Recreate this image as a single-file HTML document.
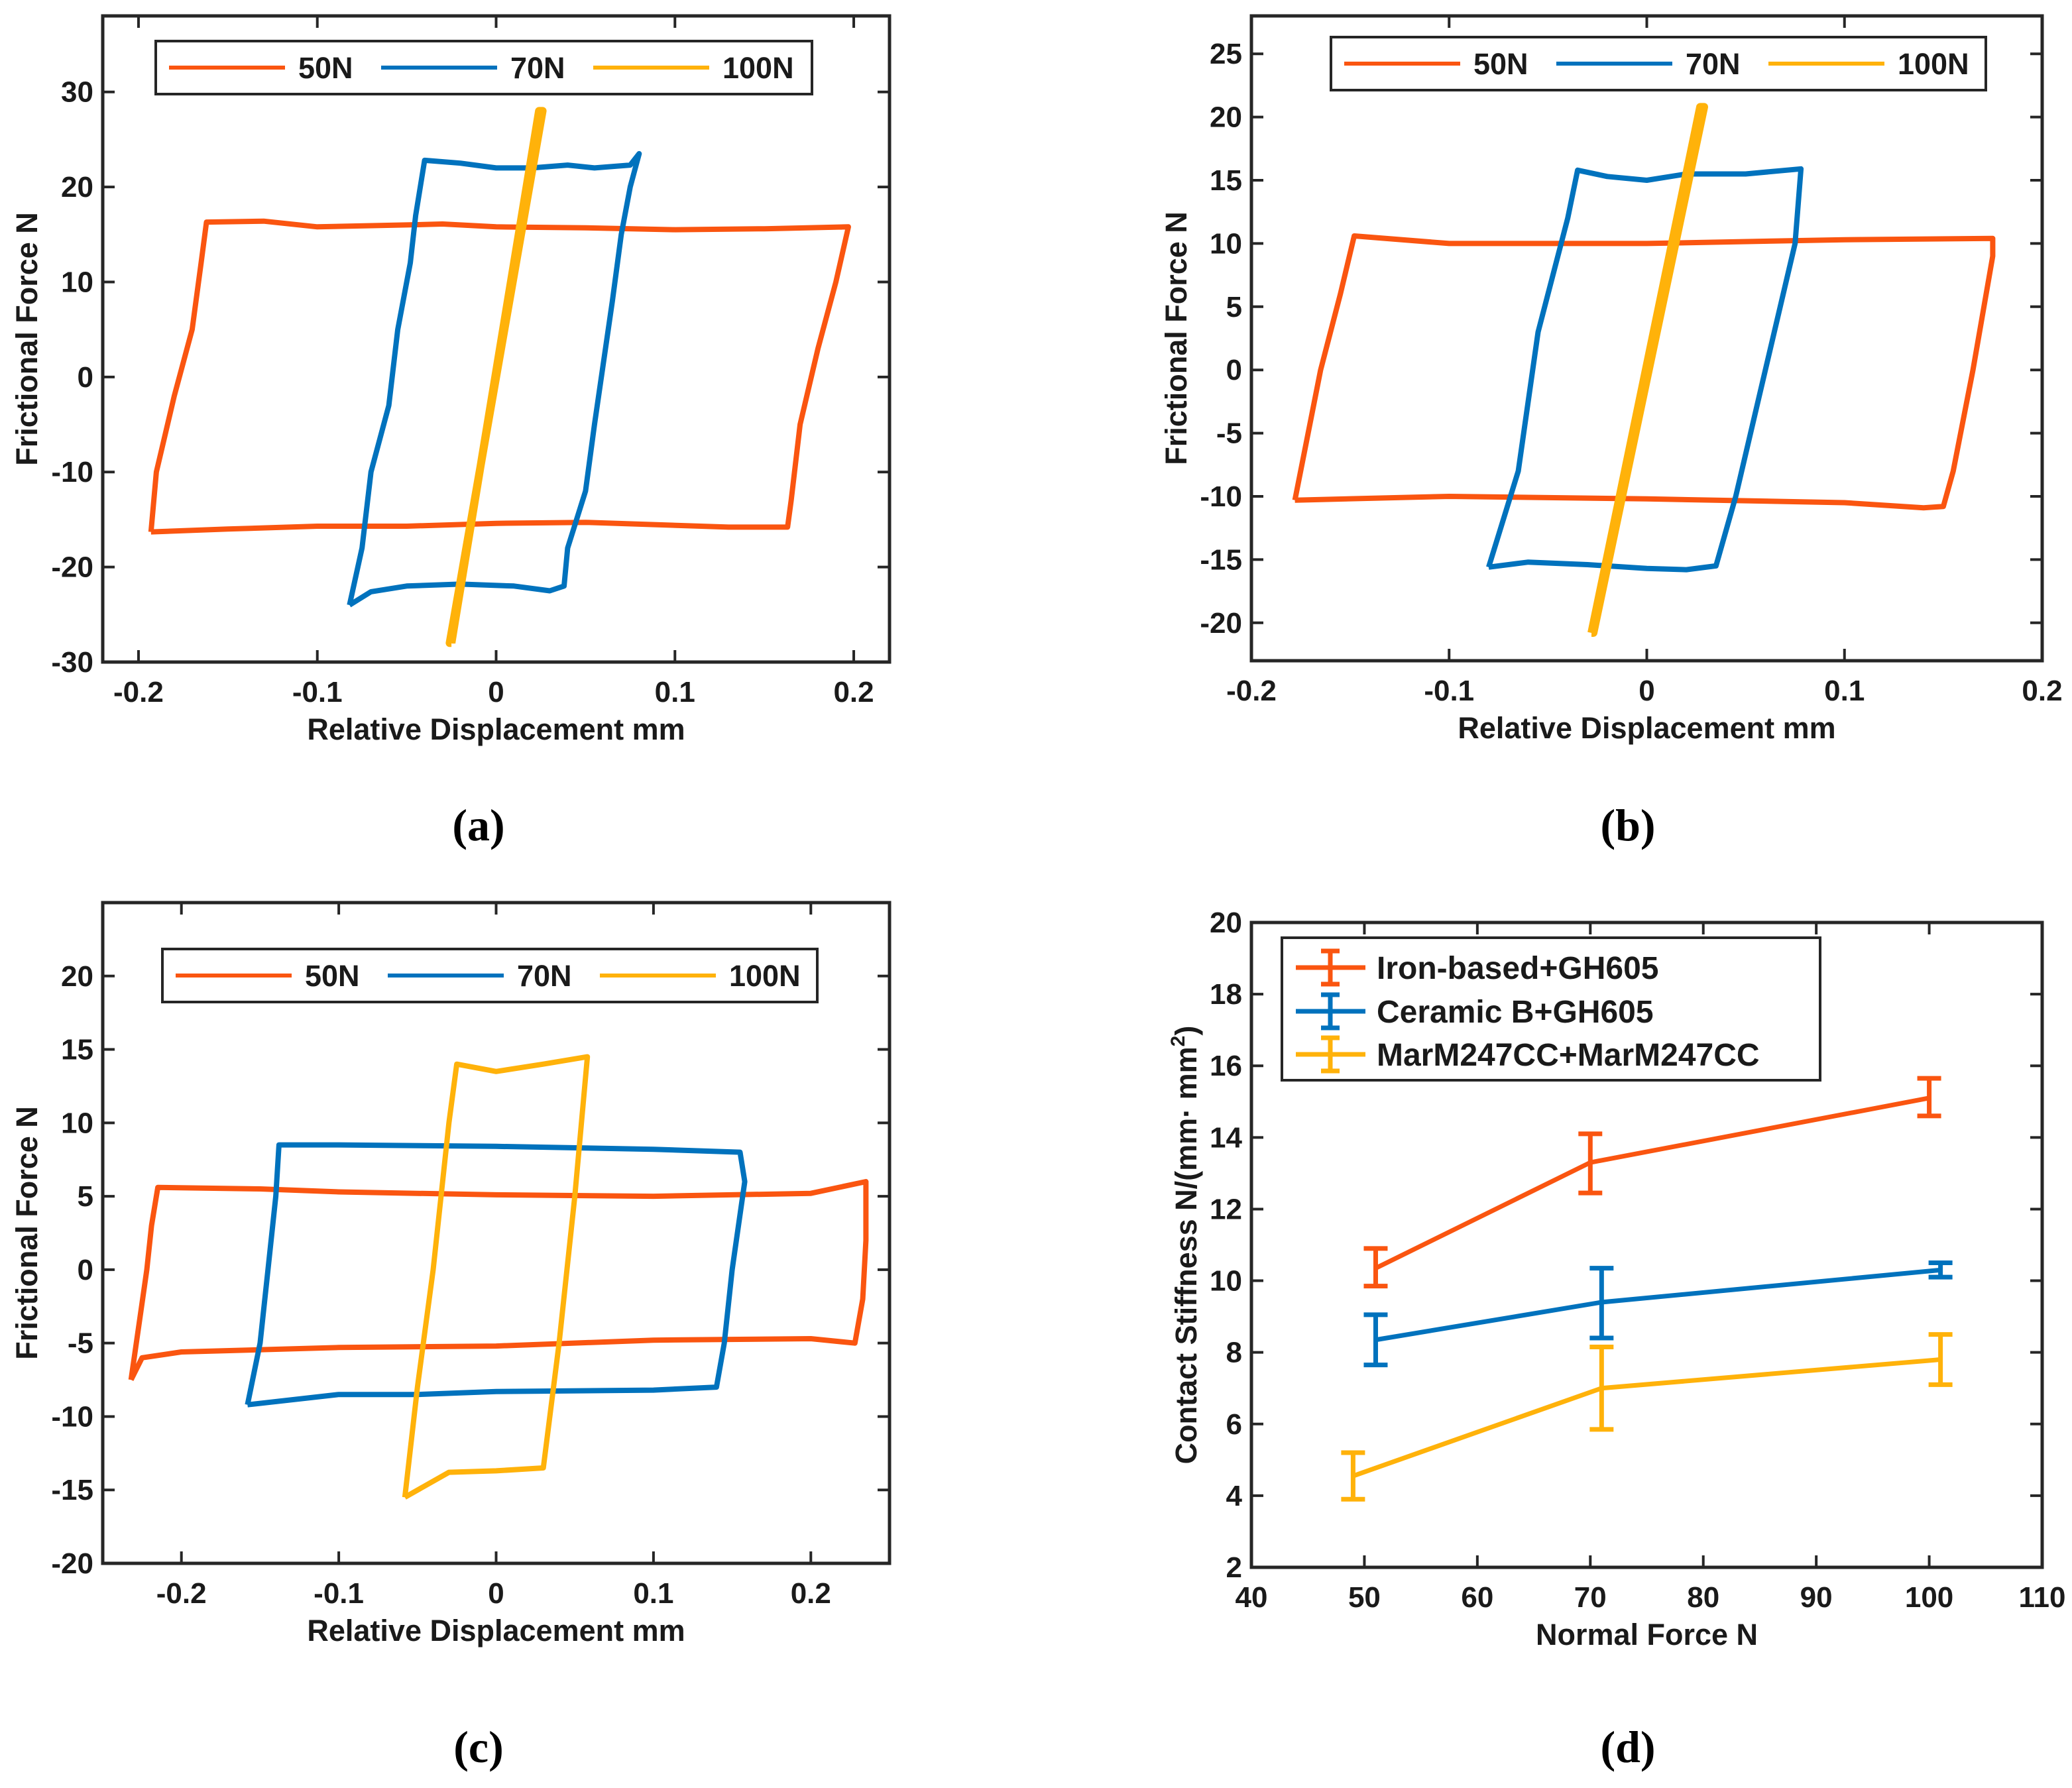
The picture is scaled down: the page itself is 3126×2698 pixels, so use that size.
<!DOCTYPE html>
<html><head><meta charset="utf-8"><style>
html,body{margin:0;padding:0;background:#fff}
svg{display:block}
text{font-family:"Liberation Sans",sans-serif;font-weight:bold;fill:#1a1a1a}
.cap{font-family:"Liberation Serif",serif;font-weight:bold;fill:#000}
</style></head><body>
<svg id="fig" width="3126" height="2698" viewBox="0 0 3126 2698" xmlns="http://www.w3.org/2000/svg"></svg>
<script>
// ---------- Data ----------
// Panel (a)
const a50x=[-0.193,-0.19,-0.18,-0.17,-0.165,-0.162,-0.13,-0.1,-0.05,-0.03,0,0.05,0.1,0.15,0.197,0.19,0.18,0.17,0.165,0.163,0.13,0.05,0,-0.05,-0.1,-0.15,-0.193];
const a50y=[-16.3,-10,-2,5,12,16.3,16.4,15.8,16,16.1,15.8,15.7,15.5,15.6,15.8,10,3,-5,-13,-15.8,-15.8,-15.3,-15.4,-15.7,-15.7,-16,-16.3];
const a70x=[-0.082,-0.075,-0.07,-0.06,-0.055,-0.048,-0.045,-0.04,-0.02,0,0.02,0.04,0.055,0.075,0.08,0.075,0.07,0.065,0.055,0.05,0.04,0.038,0.03,0.01,-0.02,-0.05,-0.07,-0.082];
const a70y=[-24,-18,-10,-3,5,12,17,22.8,22.5,22,22,22.3,22,22.3,23.5,20,15,8,-5,-12,-18,-22,-22.5,-22,-21.8,-22,-22.6,-24];
const a100x=[-0.025,0.024,0.026,-0.026,-0.025];
const a100y=[-28,28,28,-28,-28];
// Panel (b)
const b50x=[-0.178,-0.165,-0.155,-0.148,-0.1,0,0.1,0.175,0.175,0.165,0.155,0.15,0.14,0.1,0,-0.1,-0.178];
const b50y=[-10.3,0,6,10.6,10,10,10.3,10.4,9,0,-8,-10.8,-10.9,-10.5,-10.2,-10,-10.3];
const b70x=[-0.08,-0.065,-0.055,-0.04,-0.035,-0.02,0,0.02,0.05,0.078,0.075,0.06,0.045,0.035,0.02,0,-0.03,-0.06,-0.08];
const b70y=[-15.6,-8,3,12,15.8,15.3,15,15.5,15.5,15.9,10,0,-10,-15.5,-15.8,-15.7,-15.4,-15.2,-15.6];
const b100x=[-0.028,0.027,0.029,-0.027,-0.028];
const b100y=[-20.8,20.8,20.8,-20.8,-20.8];
// Panel (c)
const c50x=[-0.232,-0.226,-0.222,-0.219,-0.215,-0.15,-0.1,0,0.1,0.2,0.235,0.235,0.233,0.228,0.2,0.1,0,-0.1,-0.2,-0.225,-0.232];
const c50y=[-7.5,-3,0,3,5.6,5.5,5.3,5.1,5,5.2,6,2,-2,-5,-4.7,-4.8,-5.2,-5.3,-5.6,-6,-7.5];
const c70x=[-0.158,-0.15,-0.145,-0.14,-0.138,-0.1,0,0.1,0.155,0.158,0.15,0.145,0.14,0.1,0,-0.05,-0.1,-0.158];
const c70y=[-9.2,-5,0,5,8.5,8.5,8.4,8.2,8,6,0,-5,-8,-8.2,-8.3,-8.5,-8.5,-9.2];
const c100x=[-0.058,-0.05,-0.04,-0.03,-0.025,0,0.03,0.058,0.05,0.04,0.03,0,-0.03,-0.058];
const c100y=[-15.5,-8,0,10,14,13.5,14,14.5,5,-5,-13.5,-13.7,-13.8,-15.5];
// Panel (d)
const dIronX=[51,70,100], dIronY=[10.35,13.3,15.1], dIronLo=[9.85,12.45,14.6], dIronHi=[10.9,14.1,15.65];
const dCerX=[51,71,101], dCerY=[8.35,9.4,10.3], dCerLo=[7.65,8.4,10.1], dCerHi=[9.05,10.35,10.5];
const dMarX=[49,71,101], dMarY=[4.55,7.0,7.8], dMarLo=[3.9,5.85,7.1], dMarHi=[5.2,8.15,8.5];
const ticksAB_x=[-0.2,-0.1,0,0.1,0.2];
const ticksA_y=[-30,-20,-10,0,10,20,30];
const ticksB_y=[-20,-15,-10,-5,0,5,10,15,20,25];
const ticksC_y=[-20,-15,-10,-5,0,5,10,15,20];
const ticksD_x=[40,50,60,70,80,90,100,110];
const ticksD_y=[2,4,6,8,10,12,14,16,18,20];

const OR='#fa5510', BL='#0072bd', YE='#ffb20a';
const NS='http://www.w3.org/2000/svg';
const svg=document.getElementById('fig');
function el(tag,attrs,parent){const e=document.createElementNS(NS,tag);for(const k in attrs)e.setAttribute(k,attrs[k]);(parent||svg).appendChild(e);return e;}
function fmt(v){return v<0?'-'+String(Math.abs(v)):String(v);}

function makeAxes(name,L,R,T,B,xmin,xmax,ymin,ymax,xt,yt,xlabel,ylabel,ylabX){
  const g=el('g',{});
  
  
  const sx=v=>L+(v-xmin)/(xmax-xmin)*(R-L);
  const sy=v=>B-(v-ymin)/(ymax-ymin)*(B-T);
  xt.forEach(v=>{const x=sx(v);
    const t1=el('line',{x1:x,x2:x,y1:B,y2:B-18,stroke:'#262626','stroke-width':4},g);
    
    
    el('line',{x1:x,x2:x,y1:T,y2:T+18,stroke:'#262626','stroke-width':4},g);
    const tx=el('text',{x:x,y:B+60,'text-anchor':'middle','font-size':44},g);tx.textContent=fmt(v);
    
    
  });
  yt.forEach(v=>{const y=sy(v);
    el('line',{x1:L,x2:L+18,y1:y,y2:y,stroke:'#262626','stroke-width':4},g);
    el('line',{x1:R,x2:R-18,y1:y,y2:y,stroke:'#262626','stroke-width':4},g);
    const ty=el('text',{x:L-14,y:y+15,'text-anchor':'end','font-size':44},g);ty.textContent=fmt(v);
    
    
  });
  const xl=el('text',{x:(L+R)/2,y:B+117,'text-anchor':'middle','font-size':45},g);xl.textContent=xlabel;
  
  
  const yl=el('text',{x:0,y:0,'text-anchor':'middle','font-size':45,transform:`translate(${ylabX},${(T+B)/2}) rotate(-90)`},g);
  if(typeof ylabel==='string')yl.textContent=ylabel;else{yl.textContent=ylabel[0];const s=el('tspan',{dy:-18,'font-size':30},yl);s.textContent='2';const s2=el('tspan',{dy:18},yl);s2.textContent=')';}
  
  
  return {g,sx,sy,L,R,T,B};
}
function box(ax){const r=el('rect',{x:ax.L,y:ax.T,width:ax.R-ax.L,height:ax.B-ax.T,fill:'none',stroke:'#262626','stroke-width':5},ax.g);
  
  }
function loop(ax,xs,ys,col,name,w){
  const d=xs.map((x,i)=>(i?'L':'M')+ax.sx(x).toFixed(1)+' '+ax.sy(ys[i]).toFixed(1)).join(' ');
  const p=el('path',{d:d,fill:'none',stroke:col,'stroke-width':w||8,'stroke-linejoin':'round'},ax.g);
  
  
}
function hystLegend(ax,x,y,w,h,labels){
  const g=el('g',{},ax.g);
  
  
  el('rect',{x:x,y:y,width:w,height:h,fill:'#fff',stroke:'#262626','stroke-width':4},g);
  const cols=[OR,BL,YE];
  const offs=[[20,195,215],[340,515,535],[660,835,855]];
  labels.forEach((lab,i)=>{const o=offs[i];
    el('line',{x1:x+o[0],x2:x+o[1],y1:y+h/2,y2:y+h/2,stroke:cols[i],'stroke-width':6},g);
    const t=el('text',{x:x+o[2],y:y+h/2+16,'font-size':45},g);t.textContent=lab;
    
    
  });
}
function cap(x,y,t){const c=el('text',{x:x,y:y,'text-anchor':'middle','font-size':68,class:'cap'});c.textContent=t;
  
  }

// (a)
const A=makeAxes('panel-a',155,1342,24,999,-0.22,0.22,-30,38,ticksAB_x,ticksA_y,'Relative Displacement mm','Frictional Force N',56);
loop(A,a50x,a50y,OR,'series-50n');loop(A,a70x,a70y,BL,'series-70n');loop(A,a100x,a100y,YE,'series-100n',12);
box(A);hystLegend(A,235,62,990,80,['50N','70N','100N']);
cap(722,1268,'(a)');
// (b)
const Bx=makeAxes('panel-b',1888,3081,24,997,-0.2,0.2,-23,28,ticksAB_x,ticksB_y,'Relative Displacement mm','Frictional Force N',1790);
loop(Bx,b50x,b50y,OR,'series-50n');loop(Bx,b70x,b70y,BL,'series-70n');loop(Bx,b100x,b100y,YE,'series-100n',12);
box(Bx);hystLegend(Bx,2008,56,988,80,['50N','70N','100N']);
cap(2456,1268,'(b)');
// (c)
const C=makeAxes('panel-c',155,1342,1362,2359,-0.25,0.25,-20,25,ticksAB_x,ticksC_y,'Relative Displacement mm','Frictional Force N',56);
loop(C,c50x,c50y,OR,'series-50n');loop(C,c70x,c70y,BL,'series-70n');loop(C,c100x,c100y,YE,'series-100n');
box(C);hystLegend(C,245,1432,988,80,['50N','70N','100N']);
cap(722,2659,'(c)');
// (d)
const D=makeAxes('panel-d',1888,3081,1392,2365,40,110,2,20,ticksD_x,ticksD_y,'Normal Force N',['Contact Stiffness N/(mm· mm'],1805);
box(D);
function errSeries(xs,ys,lo,hi,col,name){
  const g=el('g',{},D.g);
  
  
  const d=xs.map((x,i)=>(i?'L':'M')+D.sx(x)+' '+D.sy(ys[i])).join(' ');
  el('path',{d:d,fill:'none',stroke:col,'stroke-width':7},g);
  xs.forEach((x,i)=>{const X=D.sx(x);
    const e=el('path',{d:`M${X} ${D.sy(lo[i])}V${D.sy(hi[i])}M${X-18} ${D.sy(lo[i])}H${X+18}M${X-18} ${D.sy(hi[i])}H${X+18}`,fill:'none',stroke:col,'stroke-width':7},g);
    
    
  });
}
errSeries(dIronX,dIronY,dIronLo,dIronHi,OR,'series-iron-gh605');
errSeries(dCerX,dCerY,dCerLo,dCerHi,BL,'series-ceramic-gh605');
errSeries(dMarX,dMarY,dMarLo,dMarHi,YE,'series-marm247cc');
(function(){
  const g=el('g',{},D.g);
  
  
  el('rect',{x:1934,y:1415,width:812,height:215,fill:'#fff',stroke:'#262626','stroke-width':4},g);
  const labs=['Iron-based+GH605','Ceramic B+GH605','MarM247CC+MarM247CC'],cols=[OR,BL,YE],ys=[1460,1526,1591];
  labs.forEach((l,i)=>{const y=ys[i];
    el('path',{d:`M1955 ${y}H2060M2007 ${y-25}V${y+25}M1993 ${y-25}H2021M1993 ${y+25}H2021`,stroke:cols[i],'stroke-width':7,fill:'none'},g);
    const t=el('text',{x:2077,y:y+17,'font-size':48},g);t.textContent=l;
    
    
  });
})();
cap(2456,2659,'(d)');
</script>
</body></html>
